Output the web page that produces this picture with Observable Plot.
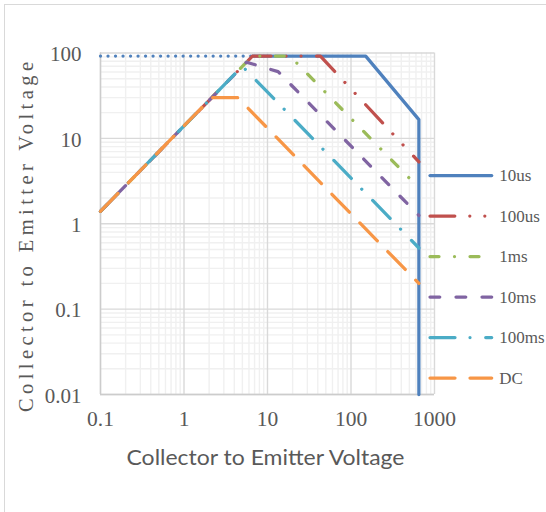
<!DOCTYPE html>
<html><head><meta charset="utf-8">
<script src="https://cdn.jsdelivr.net/npm/d3@7"></script>
<script src="https://cdn.jsdelivr.net/npm/@observablehq/plot@0.6"></script>
<style>
body{margin:0;background:#fff;}
#chart{position:relative;width:546px;height:512px;overflow:hidden;background:#fff;}
</style>
</head><body><div id="chart"></div>
<script>
// ---- data ----
const seriesNames = ["10us", "100us", "1ms", "10ms", "100ms", "DC"];
const seriesColors = ["#4F81BD", "#C0504D", "#9BBB59", "#8064A2", "#4BACC6", "#F79646"];
const seriesDash = ["none", "24.8,15,0.01,15,0.01,15.5", "9,15.5,0.01,15.5", "9.75,16.25", "25,15,0.01,15.7", "25,15"];

const x10usDotted = [0.1, 6.6];
const y10usDotted = [92, 92];
const x10us = [6.6, 150, 650, 650];
const y10us = [92, 92, 16.6, 0.01];
const x100us = [0.1, 6.6, 43, 650];
const y100us = [1.4, 92, 92, 5.3];
const x1ms = [0.1, 6.6, 18.6, 650];
const y1ms = [1.4, 92, 92, 2.63];
const x10ms = [0.1, 5.6, 13.4, 650];
const y10ms = [1.4, 78, 60.5, 1.25];
const x100ms = [0.1, 5, 650];
const y100ms = [1.4, 70, 0.52];
const xDC = [0.1, 2.14, 4.4, 650];
const yDC = [1.4, 30, 30, 0.2];

const xTicks = [0.1, 1, 10, 100, 1000];
const xTickLabels = ["0.1", "1", "10", "100", "1000"];
const yTicks = [0.01, 0.1, 1, 10, 100];
const yTickLabels = ["0.01", "0.1", "1", "10", "100"];
const minorMultiples = [2, 3, 4, 5, 6, 7, 8, 9];
const xTitle = "Collector to Emitter Voltage";
const yTitle = "Collector to Emitter Voltage";

// ---- build ----
const zip = (xs, ys) => xs.map((x, i) => ({x, y: ys[i]}));
const seriesData = [
  zip(x10us, y10us), zip(x100us, y100us), zip(x1ms, y1ms),
  zip(x10ms, y10ms), zip(x100ms, y100ms), zip(xDC, yDC)
];
const xMinor = xTicks.slice(0, -1).flatMap(t => minorMultiples.map(m => t * m));
const yMinor = yTicks.slice(0, -1).flatMap(t => minorMultiples.map(m => t * m));

const serif = "'Liberation Serif', 'DejaVu Serif', serif";
const textColor = "#595959";

const lineMarks = [];
lineMarks.push(Plot.line(zip(x10usDotted, y10usDotted), {
  x: "x", y: "y", stroke: seriesColors[0], strokeWidth: 3.25,
  strokeDasharray: "0.01,7.5", strokeLinecap: "round"
}));
seriesData.forEach((d, i) => {
  lineMarks.push(Plot.line(d, {
    x: "x", y: "y", stroke: seriesColors[i], strokeWidth: 3.25,
    strokeDasharray: seriesDash[i], strokeLinecap: "round", strokeLinejoin: "round"
  }));
});

const plot = Plot.plot({
  width: 546, height: 512,
  marginLeft: 100, marginRight: 112, marginTop: 52.5, marginBottom: 118,
  x: {type: "log", domain: [0.1, 1000], axis: null},
  y: {type: "log", domain: [0.01, 100], axis: null},
  marks: [
    Plot.ruleX(xMinor, {x: d => d, stroke: "#f0f0f0", strokeWidth: 1.4}),
    Plot.ruleY(yMinor, {y: d => d, stroke: "#f0f0f0", strokeWidth: 1.4}),
    Plot.ruleX(xTicks, {x: d => d, stroke: "#d9d9d9", strokeWidth: 1.4}),
    Plot.ruleY(yTicks, {y: d => d, stroke: "#d9d9d9", strokeWidth: 1.4}),
    Plot.ruleX([xTicks[0]], {x: d => d, stroke: "#cccccc", strokeWidth: 1.4}),
    Plot.ruleY([yTicks[0]], {y: d => d, stroke: "#cccccc", strokeWidth: 1.4}),
    ...lineMarks,
    Plot.text(xTicks, {x: d => d, text: (d, i) => xTickLabels[i], frameAnchor: "bottom", dy: 25,
      fontFamily: serif, fontSize: 21.5, fill: textColor, textAnchor: "middle", lineAnchor: "middle"}),
    Plot.text(yTicks, {y: d => d, text: (d, i) => yTickLabels[i], frameAnchor: "left", dx: -19, dy: 1.5,
      fontFamily: serif, fontSize: 21, fill: textColor, textAnchor: "end", lineAnchor: "middle"})
  ]
});

const svg = d3.select(plot);
// chart border
svg.insert("rect", ":first-child")
  .attr("x", 4.5).attr("y", 4.5).attr("width", 700).attr("height", 700)
  .attr("fill", "none").attr("stroke", "#d9d9d9").attr("stroke-width", 1);

// y title
svg.append("text")
  .attr("transform", "rotate(-90)")
  .attr("x", -237).attr("y", 33)
  .attr("text-anchor", "middle")
  .attr("textLength", 350).attr("lengthAdjust", "spacing")
  .style("font-family", serif).style("font-size", "20.5px")
  .attr("fill", textColor)
  .text(yTitle);

// x title
svg.append("text")
  .attr("x", 265.5).attr("y", 464.5)
  .attr("text-anchor", "middle")
  .attr("textLength", 278).attr("lengthAdjust", "spacingAndGlyphs")
  .style("font-family", "Lato, 'Open Sans', sans-serif").style("font-size", "21.5px")
  .attr("fill", textColor)
  .text(xTitle);

// legend
const lg = svg.append("g");
seriesNames.forEach((name, i) => {
  const y = 175.5 + 40.5 * i;
  lg.append("line")
    .attr("x1", 430).attr("x2", 491.7).attr("y1", y).attr("y2", y)
    .attr("stroke", seriesColors[i]).attr("stroke-width", 3.25)
    .attr("stroke-linecap", "round")
    .attr("stroke-dasharray", seriesDash[i]);
  lg.append("text")
    .attr("x", 499.3).attr("y", y).attr("dy", "0.35em")
    .attr("text-anchor", "start")
    .style("font-family", serif).style("font-size", "17px")
    .attr("fill", textColor)
    .text(name);
});

document.getElementById("chart").appendChild(plot);
</script>
</body></html>
